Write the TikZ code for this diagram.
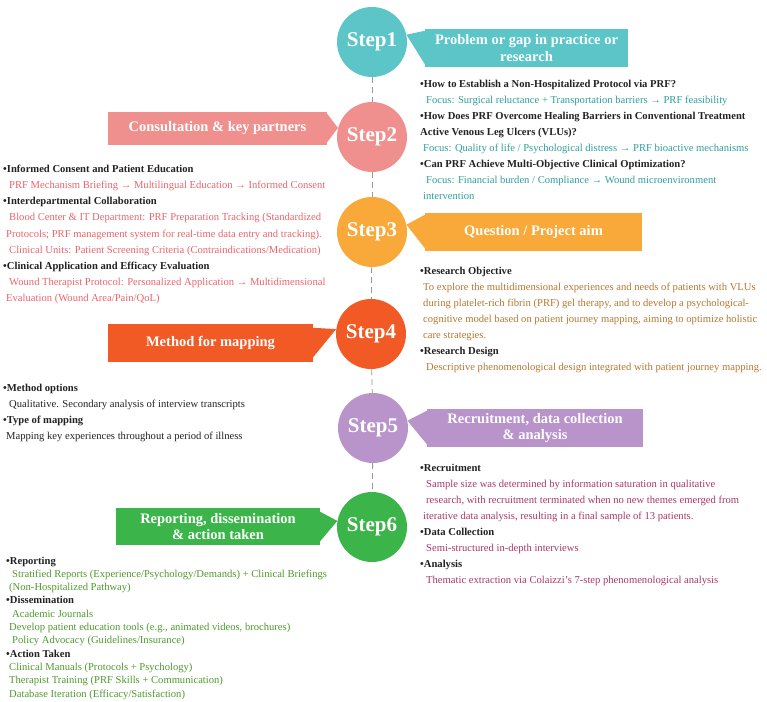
\documentclass[tikz,border=0pt]{standalone}
\usepackage{fontspec}
\setmainfont{Liberation Serif}
\usetikzlibrary{calc}

\definecolor{stepteal}{HTML}{5BC5C8}
\definecolor{steppink}{HTML}{F0908E}
\definecolor{steporange}{HTML}{F8A93A}
\definecolor{stepred}{HTML}{F15A24}
\definecolor{steppurple}{HTML}{B994CA}
\definecolor{stepgreen}{HTML}{3BB54A}
\definecolor{tealtext}{HTML}{2E9E9A}
\definecolor{pinktext}{HTML}{E8646C}
\definecolor{browntext}{HTML}{B87630}
\definecolor{darktext}{HTML}{222222}
\definecolor{plumtext}{HTML}{A8366C}
\definecolor{greentext}{HTML}{4E9A2C}

\newcommand{\bhead}[1]{\textcolor{darktext}{\textbf{•#1}}}
\newcommand{\lpad}{\hspace*{3pt}}

\tikzset{
  stepcirc/.style={circle, minimum size=70pt, inner sep=0pt, text=white,
    font=\fontsize{21}{21}\selectfont\bfseries},
  banner/.style={rectangle, inner sep=0pt, text=white, align=center,
    font=\fontsize{14.5}{16.5}\selectfont\bfseries},
  linkline/.style={draw=gray!80, dash pattern=on 6pt off 4pt, line width=0.8pt},
  infotext/.style={anchor=north west, inner sep=0pt, align=left,
    font=\fontsize{10.6}{16}\selectfont},
}

\begin{document}
\begin{tikzpicture}[x=1pt,y=-1pt]
  \useasboundingbox (0,0) rectangle (767,701);

  % steps
  \node[stepcirc, fill=stepteal] (s1) at (372,42) {Step1};
  \node[stepcirc, fill=steppink] (s2) at (372,137) {Step2};
  \node[stepcirc, fill=steporange] (s3) at (372,232) {Step3};
  \node[stepcirc, fill=stepred] (s4) at (371,334) {Step4};
  \node[stepcirc, fill=steppurple] (s5) at (373,428) {Step5};
  \node[stepcirc, fill=stepgreen] (s6) at (372,527) {Step6};

  \draw[linkline] (s1) -- (s2);
  \draw[linkline] (s2) -- (s3);
  \draw[linkline] (s3) -- (s4);
  \draw[linkline] (s4) -- (s5);
  \draw[linkline] (s5) -- (s6);

  % banners
  \node[banner, fill=stepteal, minimum width=203pt, minimum height=38pt] (b1) at (526.5,48)
    {Problem or gap in practice or\\research};
  \node[banner, fill=steppink, minimum width=219pt, minimum height=33pt] (b2) at (217.5,128.5)
    {Consultation \& key partners};
  \node[banner, fill=steporange, minimum width=217pt, minimum height=38pt] (b3) at (533.5,232)
    {Question / Project aim};
  \node[banner, fill=stepred, minimum width=205pt, minimum height=38pt] (b4) at (210.5,343)
    {Method for mapping};
  \node[banner, fill=steppurple, minimum width=216pt, minimum height=38pt] (b5) at (535,428)
    {Recruitment, data collection\\\& analysis};
  \node[banner, fill=stepgreen, minimum width=204pt, minimum height=37pt] (b6) at (218,526.5)
    {Reporting, dissemination\\\& action taken};

  \fill[stepteal] (s1.12) -- ($(b1.north west)+(0,2)$) -- ($(b1.south west)+(0,-3)$) -- cycle;
  \fill[steppink] (s2.165) -- ($(b2.north east)+(0,2)$) -- ($(b2.south east)+(0,-3)$) -- cycle;
  \fill[steporange] (s3.12) -- ($(b3.north west)+(0,2)$) -- ($(b3.south west)+(0,-3)$) -- cycle;
  \fill[stepred] (s4.172) -- ($(b4.north east)+(0,4)$) -- ($(b4.south east)+(0,-5)$) -- cycle;
  \fill[steppurple] (s5.12) -- ($(b5.north west)+(0,2)$) -- ($(b5.south west)+(0,-3)$) -- cycle;
  \fill[stepgreen] (s6.170) -- ($(b6.north east)+(0,4)$) -- ($(b6.south east)+(0,-4)$) -- cycle;

  % texts
  \node[infotext, text=tealtext] (t1) at (420,80) {%
    \bhead{How to Establish a Non-Hospitalized Protocol via PRF?}\\
    \lpad\lpad Focus: Surgical reluctance + Transportation barriers → PRF feasibility\\
    \bhead{How Does PRF Overcome Healing Barriers in Conventional Treatment}\\
    \textcolor{darktext}{\textbf{Active Venous Leg Ulcers (VLUs)?}}\\
    \lpad Focus: Quality of life / Psychological distress → PRF bioactive mechanisms\\
    \bhead{Can PRF Achieve Multi-Objective Clinical Optimization?}\\
    \lpad\lpad Focus: Financial burden / Compliance → Wound microenvironment\\
    \lpad intervention};
  \node[infotext, text=pinktext, font=\fontsize{10.6}{16.1}\selectfont] (t2) at (3,165) {%
    \bhead{Informed Consent and Patient Education}\\
    \lpad\lpad PRF Mechanism Briefing → Multilingual Education → Informed Consent\\
    \bhead{Interdepartmental Collaboration}\\
    \lpad\lpad Blood Center \& IT Department: PRF Preparation Tracking (Standardized\\
    \lpad Protocols; PRF management system for real-time data entry and tracking).\\
    \lpad\lpad Clinical Units: Patient Screening Criteria (Contraindications/Medication)\\
    \bhead{Clinical Application and Efficacy Evaluation}\\
    \lpad\lpad Wound Therapist Protocol: Personalized Application → Multidimensional\\
    \lpad Evaluation (Wound Area/Pain/QoL)};
  \node[infotext, text=browntext] (t3) at (420,266.5) {%
    \bhead{Research Objective}\\
    \lpad To explore the multidimensional experiences and needs of patients with VLUs\\
    \lpad during platelet-rich fibrin (PRF) gel therapy, and to develop a psychological-\\
    \lpad cognitive model based on patient journey mapping, aiming to optimize holistic\\
    \lpad care strategies.\\
    \bhead{Research Design}\\
    \lpad\lpad Descriptive phenomenological design integrated with patient journey mapping.};
  \node[infotext, text=darktext] (t4) at (3,384) {%
    \bhead{Method options}\\
    \lpad\lpad Qualitative. Secondary analysis of interview transcripts\\
    \bhead{Type of mapping}\\
    \lpad Mapping key experiences throughout a period of illness};
  \node[infotext, text=plumtext] (t5) at (420,464) {%
    \bhead{Recruitment}\\
    \lpad\lpad Sample size was determined by information saturation in qualitative\\
    \lpad\lpad research, with recruitment terminated when no new themes emerged from\\
    \lpad iterative data analysis, resulting in a final sample of 13 patients.\\
    \bhead{Data Collection}\\
    \lpad\lpad Semi-structured in-depth interviews\\
    \bhead{Analysis}\\
    \lpad\lpad Thematic extraction via Colaizzi’s 7-step phenomenological analysis};
  \node[infotext, text=greentext, font=\fontsize{10.6}{13.3}\selectfont] (t6) at (6,556.5) {%
    \bhead{Reporting}\\
    \lpad\lpad Stratified Reports (Experience/Psychology/Demands) + Clinical Briefings\\
    \lpad (Non-Hospitalized Pathway)\\
    \bhead{Dissemination}\\
    \lpad\lpad Academic Journals\\
    \lpad Develop patient education tools (e.g., animated videos, brochures)\\
    \lpad\lpad Policy Advocacy (Guidelines/Insurance)\\
    \bhead{Action Taken}\\
    \lpad Clinical Manuals (Protocols + Psychology)\\
    \lpad Therapist Training (PRF Skills + Communication)\\
    \lpad Database Iteration (Efficacy/Satisfaction)};
\end{tikzpicture}
\end{document}
